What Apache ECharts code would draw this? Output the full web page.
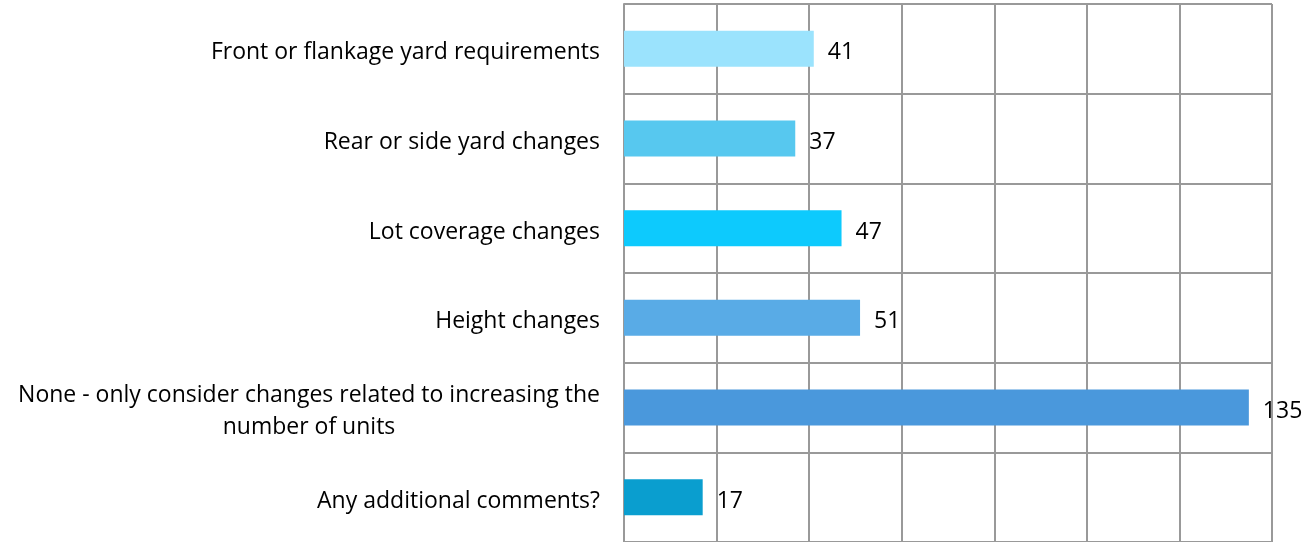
<!DOCTYPE html>
<html>
<head>
<meta charset="utf-8">
<script src="https://cdn.jsdelivr.net/npm/echarts@6/dist/echarts.min.js"></script>
<style>
  html, body { margin: 0; padding: 0; background: #ffffff; }
  #chart { width: 1311px; height: 542px; }
</style>
</head>
<body>
<div id="chart"></div>
<script>
// Survey responses: which zoning changes to consider
const categories = [
  'Front or flankage yard requirements',
  'Rear or side yard changes',
  'Lot coverage changes',
  'Height changes',
  'None - only consider changes related to increasing the\nnumber of units',
  'Any additional comments?'
];
const counts = [41, 37, 47, 51, 135, 17];
const barColors = ['#9BE3FD', '#57C8EF', '#0DCAFD', '#59ABE6', '#4A98DC', '#0A9ECF'];

const FONT = '"Open Sans", "Noto Sans", sans-serif';
const FONT_SIZE = 23;

// width of the widest line, so multi-line labels can centre their lines
const ctx = document.createElement('canvas').getContext('2d');
ctx.font = FONT_SIZE + 'px ' + FONT;
function lineWidth(s) { return Math.ceil(ctx.measureText(s).width); }

const chart = echarts.init(document.getElementById('chart'));
chart.setOption({
  animation: false,
  grid: { left: 624, right: 39, top: 4, bottom: -2, containLabel: false },
  xAxis: {
    type: 'value',
    min: 0,
    max: 140,
    interval: 20,
    axisLabel: { show: false },
    axisTick: { show: false },
    axisLine: { show: false },
    splitLine: { show: true, lineStyle: { color: '#999999', width: 2 } }
  },
  yAxis: {
    type: 'category',
    inverse: true,
    data: categories,
    axisTick: { show: false },
    axisLine: { show: true, lineStyle: { color: '#999999', width: 2 } },
    splitLine: { show: true, lineStyle: { color: '#999999', width: 2 } },
    axisLabel: {
      margin: 24,
      color: '#000000',
      fontFamily: FONT,
      fontSize: FONT_SIZE,
      lineHeight: 32,
      padding: [8, 0, 0, 0],
      formatter: function (v) {
        const lines = v.split('\n');
        if (lines.length === 1) return v;
        return lines.map(function (l) { return '{c|' + l + '}'; }).join('\n');
      },
      rich: {
        c: {
          fontFamily: FONT,
          fontSize: FONT_SIZE,
          lineHeight: 32,
          color: '#000000',
          align: 'center',
          width: lineWidth('None - only consider changes related to increasing the')
        }
      }
    }
  },
  series: [{
    type: 'bar',
    data: counts.map(function (v, i) {
      return { value: v, itemStyle: { color: barColors[i] } };
    }),
    barWidth: 36,
    label: {
      show: true,
      position: 'right',
      distance: 14,
      offset: [0, 4],
      color: '#000000',
      fontFamily: FONT,
      fontSize: FONT_SIZE
    }
  }]
});
</script>
</body>
</html>
